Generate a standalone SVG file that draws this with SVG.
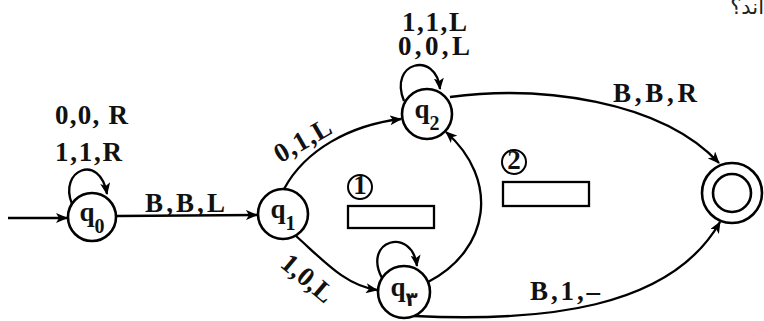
<svg xmlns="http://www.w3.org/2000/svg" width="764" height="321" viewBox="0 0 764 321">
<style>
.node{fill:#fff;stroke:#000;stroke-width:2.6}
.edge{fill:none;stroke:#000;stroke-width:2.3}
.lbl{font-family:"Liberation Serif","DejaVu Serif",serif;font-weight:bold;font-size:27px;fill:#111}
.st{font-family:"Liberation Serif","DejaVu Serif",serif;font-weight:bold;font-size:27px;fill:#111}
.sub{font-size:20px}
.box{fill:#fff;stroke:#000;stroke-width:2.3}
</style>
<defs>
<marker id="ah" viewBox="0 0 12 10" refX="11" refY="5" markerWidth="12" markerHeight="10" orient="auto" markerUnits="userSpaceOnUse">
<path d="M0,0 L12,5 L0,10 L3,5 z" fill="#000"/>
</marker>
</defs>
<rect width="764" height="321" fill="#fff"/>
<text x="764" y="14" text-anchor="end" font-family="DejaVu Sans,sans-serif" font-size="21" fill="#222">اند؟</text>
<g id="edges">
<path class="edge" d="M8 218 L67 218" marker-end="url(#ah)"/>
<path class="edge" d="M117 216 L257 215" marker-end="url(#ah)"/>
<path class="edge" d="M72 204 C58 170 100 152 107 194" marker-end="url(#ah)"/>
<path class="edge" d="M404 101 C388 62 436 50 440 89" marker-end="url(#ah)"/>
<path class="edge" d="M382 278 C362 240 412 226 417 266" marker-end="url(#ah)"/>
<path class="edge" d="M284 189 C305 150 350 125 401 119" marker-end="url(#ah)"/>
<path class="edge" d="M296 236 C325 262 345 285 377 290" marker-end="url(#ah)"/>
<path class="edge" d="M428 282 C490 250 500 180 446 132" marker-end="url(#ah)"/>
<path class="edge" d="M450 97 C540 85 660 100 719 163" marker-end="url(#ah)"/>
<path class="edge" d="M414 316 C540 322 670 310 720 222" marker-end="url(#ah)"/>
</g>
<g id="edge-labels">
<text class="lbl" x="55" y="124" textLength="73" lengthAdjust="spacing">0,0, R</text>
<text class="lbl" x="55" y="161" textLength="67" lengthAdjust="spacing">1,1,R</text>
<text class="lbl" x="145" y="212" textLength="80" lengthAdjust="spacing">B,B,L</text>
<text class="lbl" transform="translate(303 141) rotate(-30)" x="0" y="8" text-anchor="middle" textLength="62" lengthAdjust="spacing">0,1,L</text>
<text class="lbl" transform="translate(307 279) rotate(40)" x="0" y="8" text-anchor="middle" textLength="60" lengthAdjust="spacing">1,0,L</text>
<text class="lbl" x="402" y="31" font-size="26" textLength="65" lengthAdjust="spacing">1,1,L</text>
<text class="lbl" x="398" y="55" font-size="26" textLength="72" lengthAdjust="spacing">0,0,L</text>
<text class="lbl" x="613" y="102" textLength="84" lengthAdjust="spacing">B,B,R</text>
<text class="lbl" x="530" y="300" textLength="70" lengthAdjust="spacing">B,1,–</text>
</g>
<g id="q0">
<circle class="node" cx="92" cy="217" r="24"/>
<text class="st" x="92" y="221" text-anchor="middle">q<tspan class="sub" dy="12">0</tspan></text>
</g>
<g id="q1">
<circle class="node" cx="283" cy="214" r="25"/>
<text class="st" x="283" y="218" text-anchor="middle">q<tspan class="sub" dy="12">1</tspan></text>
</g>
<g id="q2">
<circle class="node" cx="427" cy="114" r="25"/>
<text class="st" x="427" y="118" text-anchor="middle">q<tspan class="sub" dy="12">2</tspan></text>
</g>
<g id="q3">
<circle class="node" cx="404" cy="292" r="26"/>
<text class="st" x="404" y="296" text-anchor="middle">q<tspan class="sub" dy="10" font-family="DejaVu Sans,sans-serif">۳</tspan></text>
</g>
<g id="qf">
<circle class="node" cx="732" cy="193" r="30"/>
<circle class="node" cx="732" cy="193" r="19"/>
</g>
<g id="blank1">
<circle cx="360" cy="187" r="12" fill="#fff" stroke="#000" stroke-width="2"/>
<text class="lbl" x="360" y="194" text-anchor="middle" font-size="19">1</text>
<rect class="box" x="348" y="206" width="86" height="22"/>
</g>
<g id="blank2">
<circle cx="514" cy="162" r="12" fill="#fff" stroke="#000" stroke-width="2"/>
<text class="lbl" x="514" y="169" text-anchor="middle" font-size="19">2</text>
<rect class="box" x="503" y="182" width="86" height="24"/>
</g>
</svg>
